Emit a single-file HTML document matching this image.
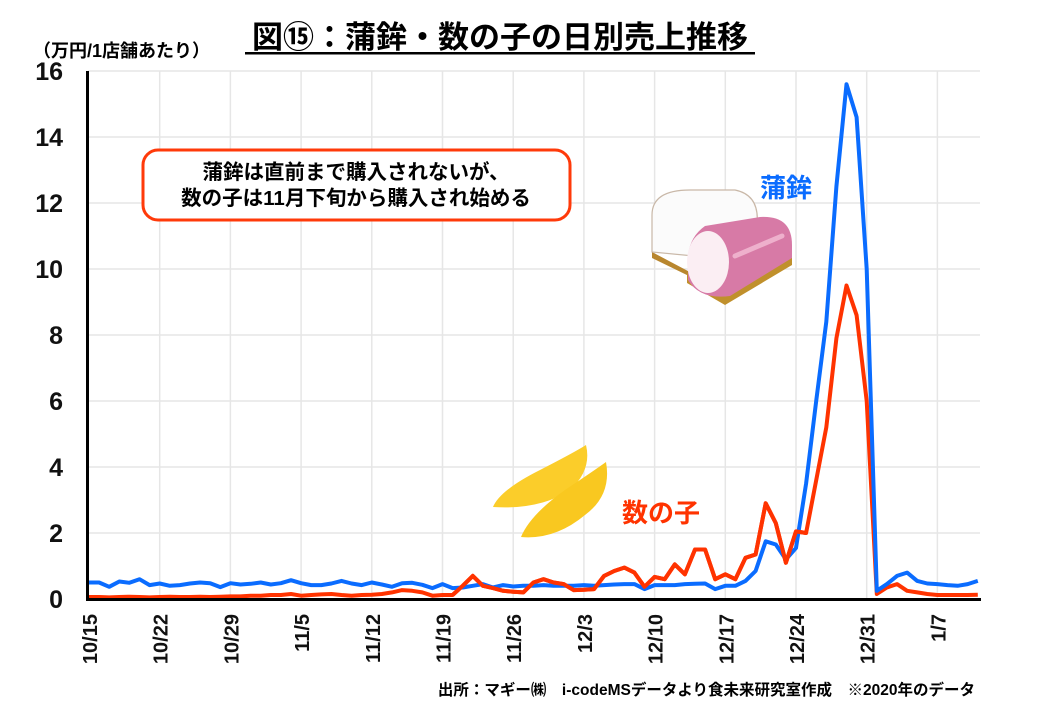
<!DOCTYPE html>
<html><head><meta charset="utf-8"><style>
body{margin:0;background:#fff;width:1040px;height:720px;overflow:hidden;font-family:"Liberation Sans","Noto Sans CJK JP",sans-serif;}
svg text{font-family:"Liberation Sans","Noto Sans CJK JP",sans-serif;font-weight:bold;}
</style></head><body>
<svg id="c" width="1040" height="720" xmlns="http://www.w3.org/2000/svg">
<g id="grid" stroke="#e6e6e6" stroke-width="1.5"></g>
<text x="500" y="48" font-size="31" text-anchor="middle" fill="#000">図⑮：蒲鉾・数の子の日別売上推移</text>
<rect x="245" y="52" width="510" height="2.5" fill="#000"/>
<text x="33" y="57" font-size="18" fill="#000">（万円/1店舗あたり）</text>
<g id="ylab" font-size="25" text-anchor="end" fill="#111"></g>
<g id="xlab" font-size="20" fill="#111"></g>
<rect x="143" y="150" width="427" height="70" rx="15" fill="#fff" stroke="#ff3a0a" stroke-width="3"/>
<text x="356" y="179" font-size="20.5" text-anchor="middle" fill="#000">蒲鉾は直前まで購入されないが、</text>
<text x="356" y="205" font-size="20.5" text-anchor="middle" fill="#000">数の子は11月下旬から購入され始める</text>
<!-- kamaboko -->
<g>
<polygon points="652,252 720,288 730,296 652,258" fill="#b8862e"/>
<path d="M652,252 L652,215 Q652,190 690,190 L735,190 Q760,195 757,225 L757,262 Z" fill="#fbfbfb" stroke="#c9b8a8" stroke-width="1.2"/>
<polygon points="687,283 725,305 792,265 792,255 725,295 687,273" fill="#c0902c"/>
<path d="M688,270 Q685,240 705,226 L760,217 Q792,215 792,245 L792,258 L730,296 Q700,300 688,280 Z" fill="#d77aa6"/>
<ellipse cx="708" cy="262" rx="21" ry="31" fill="#fbeef3"/>
<path d="M735,256 L782,236" stroke="#eeb0cc" stroke-width="5" stroke-linecap="round"/>
</g>
<!-- kazunoko -->
<path d="M493,507 Q500,490 540,470 Q575,452 586,445 Q592,470 570,490 Q540,510 493,507 Z" fill="#fbcd2a"/>
<path d="M521,537 Q530,515 565,490 Q595,470 606,462 Q612,495 585,515 Q555,540 521,537 Z" fill="#f9c820"/>
<text x="760" y="197" font-size="26" fill="#0a6cff">蒲鉾</text>
<text x="622" y="522" font-size="26" fill="#ff3300">数の子</text>
<polyline id="red" fill="none" stroke="#ff3300" stroke-width="4" stroke-linejoin="round"/>
<polyline id="blue" fill="none" stroke="#0a6cff" stroke-width="4" stroke-linejoin="round"/>
<polyline id="red2" fill="none" stroke="#ff3300" stroke-width="4" stroke-linejoin="round"/>
<rect x="86" y="71" width="3" height="530" fill="#000"/>
<rect x="86" y="598" width="895" height="3" fill="#000"/>
<text x="975" y="695" font-size="15.5" text-anchor="end" fill="#000">出所：マギー㈱　i-codeMSデータより食未来研究室作成　※2020年のデータ</text>
</svg>
<script>
var NS="http://www.w3.org/2000/svg";
function X(d){return 89+10.1*d;}
function Y(v){return 599-33*v;}
var g=document.getElementById('grid');
function el(p,t,a,txt){var e=document.createElementNS(NS,t);for(var k in a)e.setAttribute(k,a[k]);if(txt)e.textContent=txt;p.appendChild(e);return e;}
for(var v=2;v<=16;v+=2)el(g,'line',{x1:88,x2:980,y1:Y(v),y2:Y(v)});
for(var k=1;k<=12;k++)el(g,'line',{x1:X(7*k),x2:X(7*k),y1:71,y2:599});
var yl=document.getElementById('ylab');
for(var v=0;v<=16;v+=2)el(yl,'text',{x:63,y:Y(v)+9},String(v));
var xl=document.getElementById('xlab');
var labs=["10/15","10/22","10/29","11/5","11/12","11/19","11/26","12/3","12/10","12/17","12/24","12/31","1/7"];
labs.forEach(function(s,i){var x=X(7*i)+8;el(xl,'text',{x:0,y:0,transform:"translate("+x+",614) rotate(-90)","text-anchor":"end"},s);});
var blue=[0.5,0.5,0.37,0.53,0.49,0.6,0.42,0.47,0.4,0.42,0.47,0.5,0.48,0.36,0.48,0.44,0.46,0.5,0.44,0.48,0.57,0.48,0.42,0.42,0.47,0.55,0.47,0.42,0.5,0.44,0.37,0.48,0.49,0.43,0.33,0.45,0.33,
0.35,0.4,0.45,0.35,0.42,0.38,0.4,0.4,0.42,0.4,0.4,0.4,0.42,0.4,0.42,0.44,0.45,0.45,0.3,0.42,0.42,0.42,0.45,0.46,0.47,0.3,0.4,0.4,0.55,0.85,1.75,1.65,1.2,1.55,3.5,6.0,8.4,12.5,15.6,14.6,10.0,0.25,0.45,0.7,0.8,0.55,0.47,0.45,0.42,0.4,0.45,0.55];
var red=[0.06,0.06,0.05,0.06,0.07,0.06,0.05,0.06,0.07,0.06,0.06,0.07,0.06,0.07,0.08,0.08,0.1,0.1,0.12,0.12,0.15,0.1,0.12,0.14,0.15,0.12,0.1,0.12,0.13,0.15,0.2,0.27,0.25,0.2,0.1,0.12,0.12,
0.4,0.7,0.4,0.33,0.25,0.22,0.2,0.5,0.6,0.5,0.45,0.27,0.28,0.3,0.7,0.85,0.95,0.8,0.37,0.67,0.6,1.05,0.75,1.5,1.5,0.6,0.75,0.6,1.25,1.35,2.9,2.3,1.1,2.05,2.0,3.6,5.2,7.9,9.5,8.6,6.0,0.15,0.35,0.45,0.25,0.2,0.15,0.12,0.12,0.12,0.12,0.13];
function pts(a,s,e){var r=[];for(var i=s;i<=e&&i<a.length;i++)r.push(X(i).toFixed(1)+","+Y(a[i]).toFixed(1));return r.join(" ");}
document.getElementById('blue').setAttribute('points',pts(blue,0,blue.length-1));
document.getElementById('red').setAttribute('points',pts(red,0,red.length-1));
document.getElementById('red2').setAttribute('points',pts(red,36,71));
</script>
</body></html>
